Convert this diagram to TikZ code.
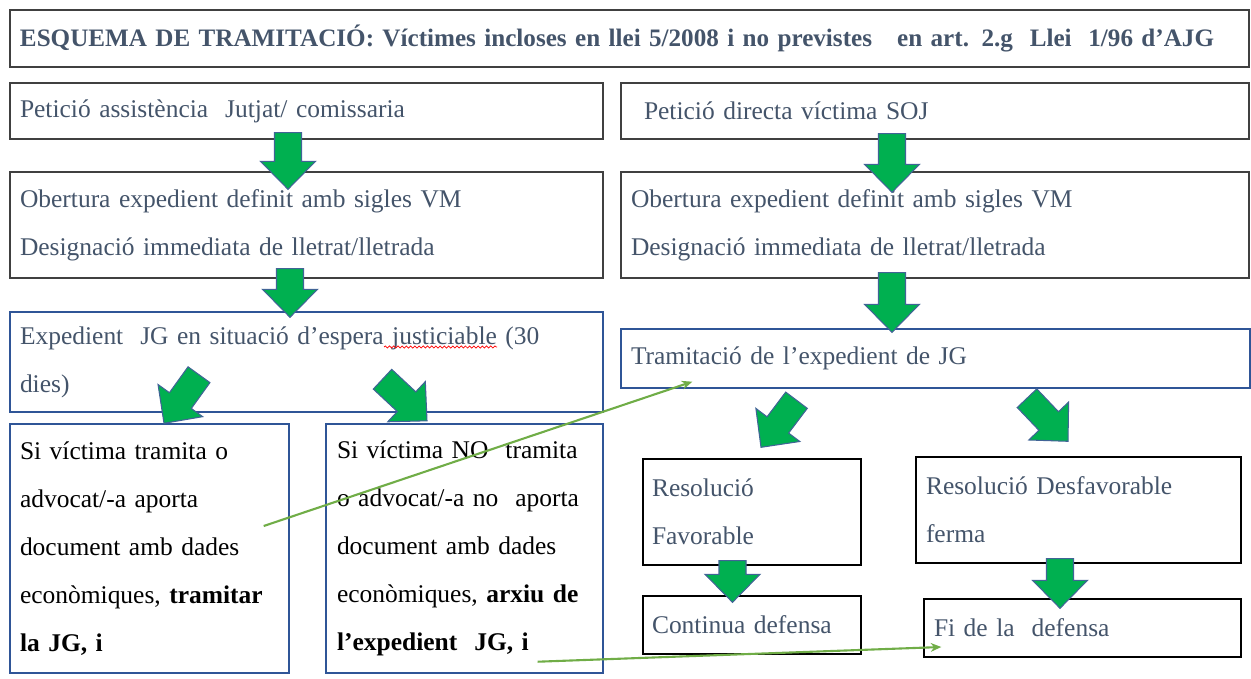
\documentclass[tikz,border=0pt]{standalone}
\usepackage{fontspec}
\setmainfont{Liberation Serif}
\usetikzlibrary{arrows.meta, positioning, calc, decorations.pathmorphing}
\definecolor{slatetext}{RGB}{68,84,106}
\definecolor{blockgreen}{RGB}{0,176,80}
\definecolor{blockedge}{RGB}{65,100,150}
\definecolor{framegray}{RGB}{64,64,64}
\definecolor{frameblue}{RGB}{47,85,151}
\definecolor{linkgreen}{RGB}{112,173,71}

% fat green arrow from #1 to #2
\newcommand{\blockarrow}[2]{%
  \coordinate (ba-a) at (#1);
  \coordinate (ba-b) at (#2);
  \coordinate (ba-h) at ($(ba-b)!0.56cm!(ba-a)$);
  \filldraw[greenblock] ($(ba-a)!0.27cm!90:(ba-b)$) -- ($(ba-h)!0.27cm!90:(ba-b)$)
    -- ($(ba-h)!0.55cm!90:(ba-b)$) -- (ba-b) -- ($(ba-h)!0.55cm!-90:(ba-b)$)
    -- ($(ba-h)!0.27cm!-90:(ba-b)$) -- ($(ba-a)!0.27cm!-90:(ba-b)$) -- cycle;
}

\begin{document}
\begin{tikzpicture}[
    >=Stealth,
    stepbox/.style={rectangle, draw=framegray, line width=0.8pt, align=left,
        inner ysep=0pt, inner xsep=0.2cm, text=slatetext,
        font=\fontsize{14.5}{27.3}\selectfont},
    bluebox/.style={stepbox, draw=frameblue},
    blackbox/.style={stepbox, draw=black},
    greenblock/.style={fill=blockgreen, draw=blockedge, line width=0.6pt},
    linkline/.style={linkgreen, line width=1.2pt, -{Stealth[length=6pt, width=5pt]}},
]
\useasboundingbox (0,0) rectangle (25.02,-13.56);

% === TITLE ===
\node[stepbox, font=\fontsize{14.3}{27.3}\selectfont\bfseries, text width=24.38cm,
      minimum height=1.14cm] (title) at (12.59,-0.77)
    {ESQUEMA DE TRAMITACIÓ: Víctimes incloses en llei 5/2008 i no previstes\ \ \ en art. 2.g\ \ Llei\ \ 1/96 d’AJG};

% === LEFT COLUMN ===
\node[stepbox, text width=11.46cm, minimum height=1.12cm] (b1) at (6.13,-2.22)
    {Petició assistència\ \ Jutjat/ comissaria};
\node[stepbox, text width=11.46cm, minimum height=2.12cm] (b3) at (6.13,-4.50)
    {Obertura expedient definit amb sigles VM\\Designació immediata de lletrat/lletrada};
\node[bluebox, text width=11.46cm, minimum height=2.0cm] (b5) at (6.13,-7.24)
    {Expedient\ \ JG en situació d’espera justiciable (30\\dies)};
\node[bluebox, text=black, text width=5.18cm, minimum height=4.98cm] (b7) at (2.99,-10.97)
    {Si víctima tramita o\\advocat/-a aporta\\document amb dades\\econòmiques, \textbf{tramitar}\\\textbf{la JG, i}};
\node[bluebox, text=black, inner xsep=0.22cm, text width=5.10cm, minimum height=4.98cm] (b8) at (9.29,-10.97)
    {Si víctima NO\ \ tramita\\o advocat/-a no\ \ aporta\\document amb dades\\econòmiques, \textbf{arxiu de}\\\textbf{l’expedient\ \ JG, i}};

% === RIGHT COLUMN ===
\node[stepbox, inner xsep=0.46cm, text width=11.64cm, minimum height=1.12cm] (b2) at (18.70,-2.22)
    {Petició directa víctima SOJ};
\node[stepbox, text width=12.16cm, minimum height=2.12cm] (b4) at (18.70,-4.50)
    {Obertura expedient definit amb sigles VM\\Designació immediata de lletrat/lletrada};
\node[bluebox, text width=12.18cm, minimum height=1.18cm] (b6) at (18.71,-7.17)
    {Tramitació de l’expedient de JG};
\node[blackbox, inner xsep=0.18cm, text width=4.0cm, minimum height=2.12cm] (b9) at (15.04,-10.24)
    {Resolució\\Favorable};
\node[blackbox, text width=6.1cm, minimum height=2.12cm] (b10) at (21.57,-10.20)
    {Resolució Desfavorable\\ferma};
\node[blackbox, inner xsep=0.18cm, text width=4.0cm, minimum height=1.16cm] (b11) at (15.04,-12.50)
    {Continua defensa};
\node[blackbox, text width=5.94cm, minimum height=1.16cm] (b12) at (21.65,-12.56)
    {Fi de la\ \ defensa};

% === GREEN BLOCK ARROWS ===
\blockarrow{[xshift=-0.37cm,yshift=0.14cm]b1.south}{[xshift=-0.37cm,yshift=-0.36cm]b3.north}
\blockarrow{[xshift=-0.86cm,yshift=0.12cm]b2.south}{[xshift=-0.86cm,yshift=-0.42cm]b4.north}
\blockarrow{[xshift=-0.33cm,yshift=0.20cm]b3.south}{[xshift=-0.33cm,yshift=-0.12cm]b5.north}
\blockarrow{[xshift=-0.86cm,yshift=0.12cm]b4.south}{[xshift=-0.87cm,yshift=-0.08cm]b6.north}
\blockarrow{[xshift=-2.15cm,yshift=0.76cm]b5.south}{[xshift=0.29cm]b7.north}
\blockarrow{[xshift=1.52cm,yshift=0.67cm]b5.south}{[xshift=-0.75cm,yshift=0.05cm]b8.north}
\blockarrow{[xshift=-2.78cm,yshift=-0.23cm]b6.south}{[xshift=0.18cm,yshift=0.22cm]b9.north}
\blockarrow{[xshift=1.83cm,yshift=-0.19cm]b6.south}{[xshift=-0.21cm,yshift=0.30cm]b10.north}
\blockarrow{[xshift=-0.39cm,yshift=0.10cm]b9.south}{[xshift=-0.39cm,yshift=-0.14cm]b11.north}
\blockarrow{[xshift=-0.37cm,yshift=0.10cm]b10.south}{[xshift=-0.45cm,yshift=-0.20cm]b12.north}

% spell-check squiggle under "justiciable"
\draw[red, line width=0.4pt, decorate, decoration={snake, amplitude=0.6pt, segment length=2.4pt}]
    (7.68,-6.94) -- (9.94,-6.94);

% === THIN LINKS ===
\draw[linkline] ([xshift=-0.52cm,yshift=0.45cm]b7.east) -- ([xshift=1.44cm,yshift=0.14cm]b6.south west);
\draw[linkline] ([xshift=-1.32cm,yshift=0.24cm]b8.south east) -- ([xshift=0.36cm,yshift=-0.38cm]b12.west);

\end{tikzpicture}
\end{document}
